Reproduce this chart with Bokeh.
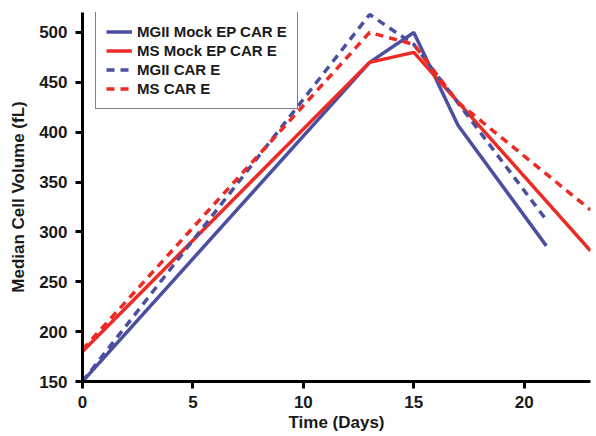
from bokeh.plotting import figure
from bokeh.models import Range1d, FixedTicker, Legend, LegendItem
from bokeh.embed import file_html
from bokeh.resources import INLINE

# Data
mgii_mock_days = [0, 13, 15, 17, 21]
mgii_mock_vol = [150, 470, 500, 407, 286]

ms_mock_days = [0, 13, 15, 23]
ms_mock_vol = [180, 470, 480, 281]

mgii_car_days = [0, 13, 15, 21]
mgii_car_vol = [150, 518, 488, 312]

ms_car_days = [0, 13, 15, 17, 23]
ms_car_vol = [182, 500, 488, 430, 322]

x_ticks = [0, 5, 10, 15, 20]
y_ticks = [150, 200, 250, 300, 350, 400, 450, 500]

BLUE = "#4b4f9f"
RED = "#ee2a24"
FONT = "Liberation Sans"

p = figure(width=596, height=436, output_backend="svg", toolbar_location=None,
           x_range=Range1d(0, 23), y_range=Range1d(150, 520),
           min_border_left=82, min_border_right=6, min_border_top=12, min_border_bottom=55)
p.outline_line_color = None
p.xgrid.visible = False
p.ygrid.visible = False
p.background_fill_color = "white"
p.border_fill_color = "white"

r1 = p.line(mgii_mock_days, mgii_mock_vol, line_color=BLUE, line_width=3.5)
r2 = p.line(ms_mock_days, ms_mock_vol, line_color=RED, line_width=3.5)
r3 = p.line(mgii_car_days, mgii_car_vol, line_color=BLUE, line_width=3.5, line_dash="8 6")
r4 = p.line(ms_car_days, ms_car_vol, line_color=RED, line_width=3.5, line_dash="8 6")

for ax in (p.xaxis[0], p.yaxis[0]):
    ax.axis_line_width = 3
    ax.axis_line_color = "black"
    ax.major_tick_line_width = 3
    ax.major_tick_line_color = "black"
    ax.major_tick_out = 7
    ax.major_tick_in = 0
    ax.minor_tick_line_color = None
    ax.major_label_text_font = FONT
    ax.major_label_text_font_style = "bold"
    ax.major_label_text_font_size = "17px"
    ax.major_label_text_color = "#1a1a1a"
    ax.axis_label_text_font = FONT
    ax.axis_label_text_font_style = "bold"
    ax.axis_label_text_font_size = "17px"
    ax.axis_label_text_color = "#1a1a1a"

p.xaxis[0].ticker = FixedTicker(ticks=x_ticks)
p.yaxis[0].ticker = FixedTicker(ticks=y_ticks)
p.xaxis[0].axis_label = "Time (Days)"
p.yaxis[0].axis_label = "Median Cell Volume (fL)"
p.xaxis[0].major_label_standoff = 7
p.yaxis[0].major_label_standoff = 8
p.xaxis[0].axis_label_standoff = 2
p.yaxis[0].axis_label_standoff = 8

legend = Legend(items=[
    LegendItem(label="MGII Mock EP CAR E", renderers=[r1]),
    LegendItem(label="MS Mock EP CAR E", renderers=[r2]),
    LegendItem(label="MGII CAR E", renderers=[r3]),
    LegendItem(label="MS CAR E", renderers=[r4]),
], location=(13, 272))
legend.label_text_font = FONT
legend.label_text_font_style = "bold"
legend.label_text_font_size = "15px"
legend.label_text_color = "#1a1a1a"
legend.label_height = 19
legend.glyph_height = 19
legend.glyph_width = 26
legend.label_standoff = 5
legend.spacing = 0
legend.padding = 10
legend.margin = 0
legend.border_line_color = "black"
legend.border_line_width = 1.5
legend.background_fill_alpha = 1
p.add_layout(legend, "center")

open("out.html", "w").write(file_html(p, INLINE))
